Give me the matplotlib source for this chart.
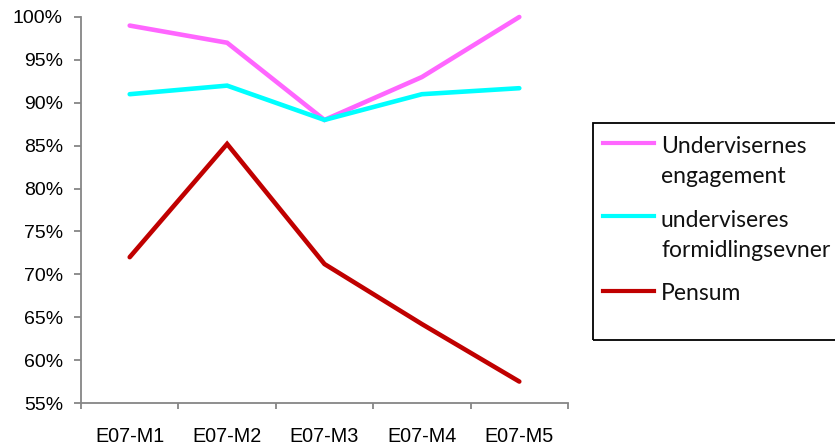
import matplotlib
matplotlib.use("Agg")
import matplotlib.pyplot as plt
from matplotlib.lines import Line2D
from matplotlib.patches import Rectangle
from matplotlib.ticker import FixedLocator, PercentFormatter

categories = ["E07-M1", "E07-M2", "E07-M3", "E07-M4", "E07-M5"]
engagement = [99.0, 97.0, 88.0, 93.0, 100.0]
formidling = [91.0, 92.0, 88.0, 91.0, 91.7]
pensum = [72.0, 85.2, 71.2, 64.2, 57.5]

series_labels = [["Undervisernes", "engagement"], ["underviseres", "formidlingsevner"], ["Pensum"]]
series_colors = ["#FF66FF", "#00FFFF", "#C00000"]
y_ticks = [55, 60, 65, 70, 75, 80, 85, 90, 95, 100]

W, H = 835, 448
fig = plt.figure(figsize=(W / 100, H / 100), dpi=100)
ax = fig.add_axes([81 / W, 1 - 403 / H, (568 - 81) / W, (403 - 17) / H])

x = list(range(len(categories)))
for vals, col in zip([engagement, formidling, pensum], series_colors):
    ax.plot(x, vals, color=col, lw=3.3, solid_capstyle="round", solid_joinstyle="miter", clip_on=False)

ax.set_xlim(-0.5, len(categories) - 0.5)
ax.set_ylim(55, 100)
ax.set_yticks(y_ticks)
ax.yaxis.set_major_formatter(PercentFormatter(decimals=0))

# category labels centred between boundary ticks
ax.xaxis.set_major_locator(FixedLocator([i - 0.5 for i in range(len(categories) + 1)]))
ax.xaxis.set_major_formatter(plt.NullFormatter())
ax.xaxis.set_minor_locator(FixedLocator(x))
ax.set_xticklabels(categories, minor=True)
ax.tick_params(axis="x", which="minor", length=0, pad=17)
ax.tick_params(axis="x", which="major", length=4.5, width=1.3, color="#868686", direction="out")
ax.tick_params(axis="y", length=5, width=1.3, color="#868686", direction="out", pad=8)

for lab in ax.get_yticklabels():
    lab.set_fontfamily("Liberation Sans")
    lab.set_fontsize(14)
for lab in ax.get_xticklabels(minor=True):
    lab.set_fontfamily("Liberation Sans")
    lab.set_fontsize(14.2)

for side in ["top", "right"]:
    ax.spines[side].set_visible(False)
for side in ["left", "bottom"]:
    ax.spines[side].set_color("#868686")
    ax.spines[side].set_linewidth(1.3)

# legend box, laid out in figure pixel coordinates
def fx(px):
    return px / W

def fy(py):
    return 1 - py / H

fig.patches.append(Rectangle((fx(593), fy(340)), fx(900) - fx(593), fy(123) - fy(340),
                             transform=fig.transFigure, fill=False, edgecolor="black", lw=1.3))
handle_y = [143, 216, 291]
first_baseline = [153, 227, 300]
line_step = 30
for lines, col, hy, by in zip(series_labels, series_colors, handle_y, first_baseline):
    fig.lines.append(Line2D([fx(603), fx(654)], [fy(hy), fy(hy)], transform=fig.transFigure,
                            color=col, lw=3.0))
    for k, txt in enumerate(lines):
        fig.text(fx(661), fy(by + k * line_step), txt, va="baseline", ha="left",
                 fontsize=16.5, family="Lato", color="#111111")

fig.savefig("out.png", dpi=100)
